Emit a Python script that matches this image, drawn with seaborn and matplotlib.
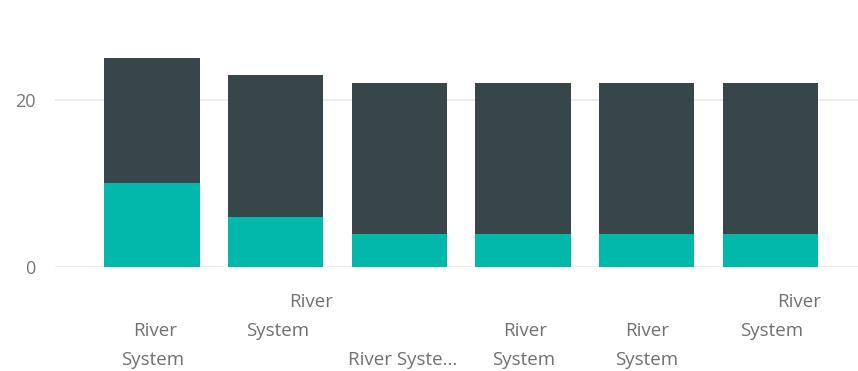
import matplotlib
matplotlib.use("Agg")
import matplotlib.pyplot as plt
import pandas as pd
import seaborn as sns

categories = ["River System 1", "River System 2", "River System 3",
              "River System 4", "River System 5", "River System 6"]
teal_values = [10, 6, 4, 4, 4, 4]
dark_values = [15, 17, 18, 18, 18, 18]
y_ticks = [0, 20]

# how each truncated/wrapped axis label is shown: (text, dx px, y px from top)
label_lines = [
    [("River", 3, 331), ("System", 1, 360)],
    [("River", 35, 302), ("System", 2, 331)],
    [("River Syste...", 3, 360)],
    [("River", 2, 331), ("System", 1, 360)],
    [("River", 1, 331), ("System", 0, 360)],
    [("River", 29, 302), ("System", 1, 331)],
]

df = pd.DataFrame({
    "category": categories,
    "teal": teal_values,
    "total": [t + d for t, d in zip(teal_values, dark_values)],
})

sns.set_theme(style="white")
plt.rcParams["font.family"] = ["Open Sans", "DejaVu Sans"]

W, H = 858, 371
fig = plt.figure(figsize=(W / 100, H / 100), dpi=100)
ax = fig.add_axes([55 / W, 1 - 267 / H, 803 / W, (267 - 33) / H])

sns.barplot(data=df, x="category", y="total", color="#374649",
            width=0.77, saturation=1, linewidth=0, ax=ax, zorder=3)
sns.barplot(data=df, x="category", y="teal", color="#01B8AA",
            width=0.77, saturation=1, linewidth=0, ax=ax, zorder=4)

ax.set_xlim(-0.785, 5.71)
ax.set_ylim(0, 28)
ax.set_yticks(y_ticks)
ax.yaxis.grid(True, color="#EAEAEA", linewidth=1.2, zorder=0)
ax.tick_params(axis="y", length=0, labelsize=13, labelcolor="#777777", pad=14)
ax.set_xticks(range(len(categories)))
ax.set_xticklabels([])
ax.tick_params(axis="x", length=0)
ax.set_xlabel("")
ax.set_ylabel("")
for s in ax.spines.values():
    s.set_visible(False)

for i, lines in enumerate(label_lines):
    for text, dx, ypx in lines:
        ax.annotate(text, xy=(i, H - ypx), xycoords=("data", "figure pixels"),
                    xytext=(dx, 0), textcoords="offset pixels",
                    ha="center", va="center", fontsize=13.5, color="#707070",
                    annotation_clip=False)

fig.savefig("out.png", dpi=100)
